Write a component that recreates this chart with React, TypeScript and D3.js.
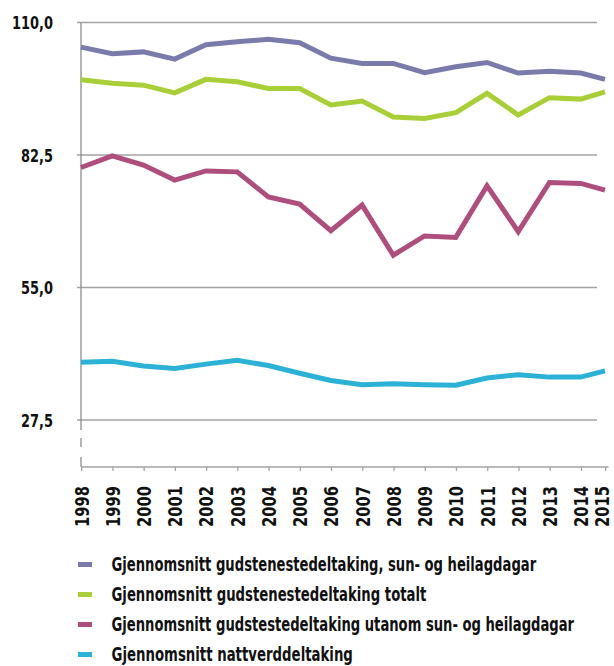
import React, { useLayoutEffect, useRef } from "react";
import * as d3 from "d3";

const years = [1998, 1999, 2000, 2001, 2002, 2003, 2004, 2005, 2006, 2007, 2008, 2009, 2010, 2011, 2012, 2013, 2014, 2015];

const sunHeilag = [104.9, 103.5, 103.9, 102.4, 105.4, 106.0, 106.5, 105.8, 102.6, 101.5, 101.5, 99.6, 100.8, 101.7, 99.5, 99.9, 99.5, 98.2];
const totalt = [98.1, 97.4, 97.0, 95.4, 98.2, 97.7, 96.3, 96.3, 92.9, 93.7, 90.4, 90.1, 91.3, 95.3, 90.8, 94.4, 94.1, 95.6];
const utanom = [79.9, 82.3, 80.4, 77.3, 79.2, 79.0, 73.8, 72.3, 66.8, 72.1, 61.7, 65.7, 65.4, 76.1, 66.6, 76.8, 76.6, 75.2];
const nattverd = [39.5, 39.7, 38.7, 38.2, 39.1, 39.9, 38.8, 37.2, 35.7, 34.8, 35.0, 34.8, 34.7, 36.2, 36.9, 36.4, 36.4, 37.7];

const yTicks = [110, 82.5, 55, 27.5];

const seriesNames = [
  "Gjennomsnitt gudstenestedeltaking, sun- og heilagdagar",
  "Gjennomsnitt gudstenestedeltaking totalt",
  "Gjennomsnitt gudstestedeltaking utanom sun- og heilagdagar",
  "Gjennomsnitt nattverddeltaking",
];
const seriesColors = ["#7b7bab", "#a9cf38", "#ae4e7d", "#2cb1d7"];
const seriesValues = [sunHeilag, totalt, utanom, nattverd];
const legendWidths = [425, 315, 463, 241.5];

const FONT = "'DejaVu Sans', sans-serif";

export default function App() {
  const svgRef = useRef<SVGSVGElement>(null);
  const W = 614, H = 666;
  const axisX = 81;
  const xAxisY = 467;
  const x = d3.scaleLinear().domain([1998, 2014, 2015]).range([81, 580.7, 605]);
  const y = d3.scaleLinear().domain([27.5, 110]).range([420, 22.5]);
  const line = d3.line<number>().x((_, i) => x(years[i])).y((d) => y(d));
  const fmt = (v: number) => d3.format(".1f")(v).replace(".", ",");
  const y0 = y(27.5);

  useLayoutEffect(() => {
    if (!svgRef.current) return;
    d3.select(svgRef.current)
      .selectAll<SVGTextElement, unknown>("text[data-w]")
      .each(function () {
        const target = +(this.getAttribute("data-w") || 0);
        const natural = this.getComputedTextLength();
        if (natural > 0 && target > 0) {
          d3.select(this).attr("transform", `scale(${target / natural},1)`);
        }
      });
  }, []);

  return (
    <svg ref={svgRef} width={W} height={H} style={{ position: "absolute", left: 0, top: 0, background: "#fff" }} fontFamily={FONT} fontStretch="condensed">
      {yTicks.map((t) => (
        <g key={t}>
          <line x1={axisX - 4} x2={597} y1={y(t)} y2={y(t)} stroke="#a3a3a3" strokeWidth={1.3} />
          <g transform={`translate(53,${y(t)})`}>
            <text x={0} y={0} dy="0.36em" textAnchor="end" fontSize={18.5} fontWeight="bold" fill="#111"
              data-w={t === 110 ? 41 : 32}>
              {fmt(t)}
            </text>
          </g>
        </g>
      ))}
      {/* y axis with break */}
      <line x1={axisX} x2={axisX} y1={y(110)} y2={y0 + 10} stroke="#8c8c8c" strokeWidth={1.3} />
      <line x1={axisX} x2={axisX} y1={y0 + 18} y2={y0 + 27} stroke="#8c8c8c" strokeWidth={1.3} />
      <line x1={axisX} x2={axisX} y1={y0 + 37} y2={xAxisY} stroke="#8c8c8c" strokeWidth={1.3} />
      {/* x axis */}
      <line x1={axisX} x2={608.5} y1={xAxisY} y2={xAxisY} stroke="#a3a3a3" strokeWidth={1.3} />
      {years.map((yr) => (
        <g key={yr}>
          <line x1={x(yr) + 0.7} x2={x(yr) + 0.7} y1={xAxisY} y2={xAxisY + 4} stroke="#a3a3a3" strokeWidth={1.3} />
          <g transform={`translate(${Math.min(x(yr) + 0.7, 602.5)},486) rotate(-90)`}>
            <text
              textAnchor="end"
              dy="0.36em"
              fontSize={19}
              fontWeight="bold"
              fill="#111"
              data-w={41}
            >
              {yr}
            </text>
          </g>
        </g>
      ))}
      {seriesValues.map((vals, i) => (
        <path key={i} d={line(vals) || ""} fill="none" stroke={seriesColors[i]} strokeWidth={5} strokeLinejoin="miter" />
      ))}
      {seriesNames.map((name, i) => (
        <g key={name} transform={`translate(0,${564.5 + i * 30})`}>
          <rect x={78} y={-2.5} width={14} height={5} fill={seriesColors[i]} />
          <g transform="translate(111.5,0)">
            <text x={0} y={0} dy="0.36em" fontSize={19} fontWeight="bold" fill="#111" data-w={legendWidths[i]}>
              {name}
            </text>
          </g>
        </g>
      ))}
    </svg>
  );
}
